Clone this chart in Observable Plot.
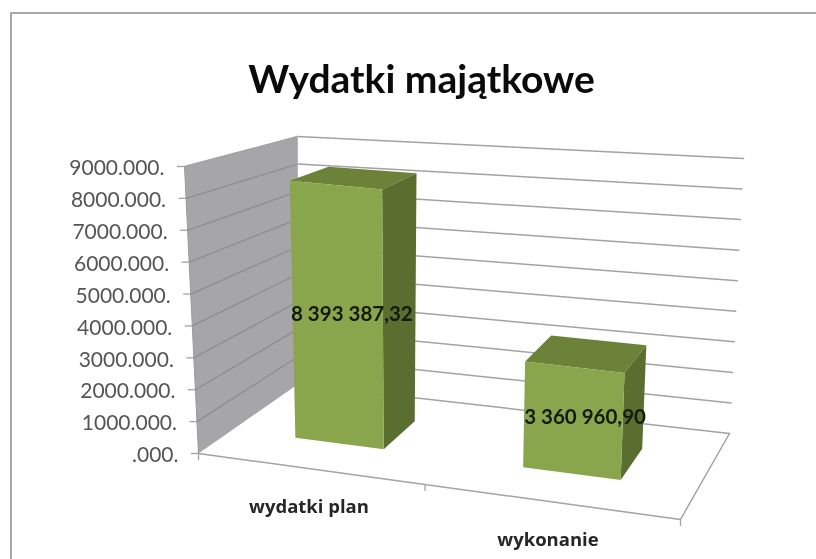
<!DOCTYPE html>
<html>
<head>
<meta charset="utf-8">
<script src="https://cdn.jsdelivr.net/npm/d3@7"></script>
<script src="https://cdn.jsdelivr.net/npm/@observablehq/plot@0.6"></script>
<style>
html,body{margin:0;padding:0;background:#fff;overflow:hidden}
svg{display:block;filter:blur(0.45px)}
</style>
</head>
<body>
<div id="chart"></div>
<script>
// ---- data ----
const chartTitle = "Wydatki majątkowe";
const categories = ["wydatki plan", "wykonanie"];
const values = [8393387.32, 3360960.90];
const valueLabels = ["8 393 387,32", "3 360 960,90"];
const tickValues = [0, 1000000, 2000000, 3000000, 4000000, 5000000, 6000000, 7000000, 8000000, 9000000];
const tickLabels = [".000.", "1000.000.", "2000.000.", "3000.000.", "4000.000.", "5000.000.", "6000.000.", "7000.000.", "8000.000.", "9000.000."];

// ---- 3D view: u along categories, v in depth, value upward ----
const maxValue = 9000000;
const floorA = [198, 453], floorB = [680, 519], floorC = [729, 433], floorD = [297, 384];
const liftA = [-14, -287], liftB = [14, -296], liftC = [14, -275], liftD = [0, -248];
const barDepth = [0.345, 0.72];
const barStart = i => 0.135 + i * 0.49, barWidth = i => 0.19 + i * 0.02;

function project(u, v, value) {
  const t = value / maxValue;
  const wA = (1 - u) * (1 - v), wB = u * (1 - v), wC = u * v, wD = (1 - u) * v;
  const corner = k =>
    wA * (floorA[k] + t * liftA[k]) + wB * (floorB[k] + t * liftB[k]) +
    wC * (floorC[k] + t * liftC[k]) + wD * (floorD[k] + t * liftD[k]);
  return {x: corner(0), y: corner(1)};
}
const path = (...pts) => pts.map(p => project(...p));
const closed = (...pts) => path(...pts, pts[0]);
const line = (pts, o) => Plot.line(pts, {x: "x", y: "y", curve: "linear", ...o});
const poly = (pts, fill) => Plot.line(pts, {x: "x", y: "y", curve: "linear", fill, stroke: "none"});

const gridStroke = {stroke: "#a3a3a5", strokeWidth: 1.5};
const marks = [];

// chart frame
marks.push(Plot.ruleX([10.5], {y1: 12, y2: 559, stroke: "#a8a8a8", strokeWidth: 2}));
marks.push(Plot.ruleY([12.5], {x1: 10, x2: 816, stroke: "#a8a8a8", strokeWidth: 2}));

// side wall
marks.push(poly(closed([0, 0, 0], [0, 1, 0], [0, 1, maxValue], [0, 0, maxValue]), "#a6a6a8"));
marks.push(line(path([0, 0, 0], [0, 0, maxValue]), {stroke: "#9a9a9c", strokeWidth: 1}));

// gridlines on side and back walls
for (const t of tickValues) {
  if (t > 0) marks.push(line(path([0, 0, t], [0, 1, t]), {stroke: t === maxValue ? "#a3a3a5" : "#8e8e90", strokeWidth: 1.3}));
  marks.push(line(path([0, 1, t], [1, 1, t]), gridStroke));
}
marks.push(line(path([0, 1, 0], [0, 1, maxValue]), {stroke: "#b5b5b5", strokeWidth: 1}));

// floor edges
marks.push(line(path([0, 0, 0], [1, 0, 0], [1, 1, 0]), gridStroke));

// axis ticks
for (const t of tickValues) {
  const p = project(0, 0, t);
  marks.push(Plot.ruleY([p.y], {x1: p.x - 7, x2: p.x, stroke: "#a3a3a5", strokeWidth: 1.3}));
}
for (const u of [0, 0.47, 1]) {
  const p = project(u, 0, 0);
  marks.push(Plot.ruleX([p.x], {y1: p.y, y2: p.y + 7, stroke: "#a3a3a5", strokeWidth: 1.3}));
}

// bars
values.forEach((val, i) => {
  const u0 = barStart(i), u1 = u0 + barWidth(i), [v0, v1] = barDepth;
  marks.push(poly(closed([u0, v0, val], [u1, v0, val], [u1, v1, val], [u0, v1, val]), "#6c8238"));
  marks.push(poly(closed([u1, v0, 0], [u1, v1, 0], [u1, v1, val], [u1, v0, val]), "#5a6e30"));
  marks.push(poly(closed([u0, v0, 0], [u1, v0, 0], [u1, v0, val], [u0, v0, val]), "#8aa64c"));
});

// text
const font = "Lato, 'Open Sans', sans-serif";
marks.push(Plot.text([chartTitle], {
  x: () => 421, y: () => 80, text: d => d,
  fontFamily: font, fontSize: 39, fontWeight: 700, fill: "#0a0a0a"
}));
marks.push(Plot.text(tickValues, {
  x: d => project(0, 0, d).x - 20, y: d => project(0, 0, d).y + 2,
  text: (d, i) => tickLabels[i], textAnchor: "end",
  fontFamily: font, fontSize: 21, fill: "#555555"
}));
marks.push(Plot.text(categories, {
  x: (d, i) => project(0.25 + i * 0.5, 0, 0).x - 10 - i * 2,
  y: (d, i) => project(0.25 + i * 0.5, 0, 0).y + 37,
  text: d => d,
  fontFamily: "'Open Sans', Lato, sans-serif", fontSize: 18.5, fontWeight: 700, fill: "#262626"
}));
marks.push(Plot.text(values, {
  x: (d, i) => project(barStart(i) + barWidth(i) / 2, 0.53, d / 2).x - 3 * (1 - i),
  y: (d, i) => project(barStart(i) + barWidth(i) / 2, 0.53, d / 2).y + 11,
  text: (d, i) => valueLabels[i],
  fontFamily: font, fontSize: 20.5, fontWeight: 700, fill: "#141a0c"
}));

const chart = Plot.plot({
  width: 816, height: 559, margin: 0,
  style: {background: "#fff"},
  x: {type: "identity", axis: null},
  y: {type: "identity", axis: null},
  marks
});
document.getElementById("chart").append(chart);
</script>
</body>
</html>
